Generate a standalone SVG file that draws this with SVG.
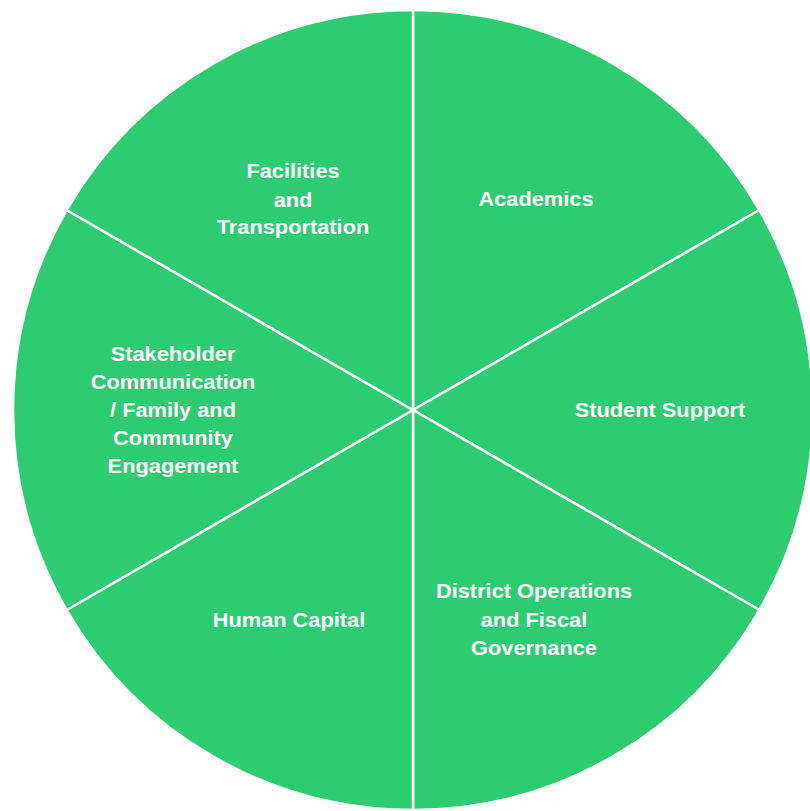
<svg xmlns="http://www.w3.org/2000/svg" width="810" height="811" viewBox="0 0 810 811">
<style>
.slice{fill:#2ECC71;stroke:#ffffff;stroke-width:2.5;stroke-linejoin:round}
.lbl{font-family:"Liberation Sans",Arial,sans-serif;font-size:20px;font-weight:bold;fill:#ffffff;text-anchor:middle}
</style>
<rect width="810" height="811" fill="#ffffff"/>
<g id="slice-academics">
<path class="slice" d="M413,410 L413,10 A400,400 0 0 1 759.4,210 Z"/>
<text class="lbl" transform="translate(536,206) scale(1.09,1)">Academics</text>
</g>
<g id="slice-student-support">
<path class="slice" d="M413,410 L759.4,210 A400,400 0 0 1 759.4,610 Z"/>
<text class="lbl" transform="translate(660,417) scale(1.09,1)">Student Support</text>
</g>
<g id="slice-district-operations">
<path class="slice" d="M413,410 L759.4,610 A400,400 0 0 1 413,810 Z"/>
<text class="lbl" transform="translate(534,598) scale(1.09,1)">District Operations</text>
<text class="lbl" transform="translate(534,627) scale(1.09,1)">and Fiscal</text>
<text class="lbl" transform="translate(534,655) scale(1.09,1)">Governance</text>
</g>
<g id="slice-human-capital">
<path class="slice" d="M413,410 L413,810 A400,400 0 0 1 66.6,610 Z"/>
<text class="lbl" transform="translate(289,627) scale(1.09,1)">Human Capital</text>
</g>
<g id="slice-stakeholder">
<path class="slice" d="M413,410 L66.6,610 A400,400 0 0 1 66.6,210 Z"/>
<text class="lbl" transform="translate(173,361) scale(1.09,1)">Stakeholder</text>
<text class="lbl" transform="translate(173,389) scale(1.09,1)">Communication</text>
<text class="lbl" transform="translate(173,417) scale(1.09,1)">/ Family and</text>
<text class="lbl" transform="translate(173,445) scale(1.09,1)">Community</text>
<text class="lbl" transform="translate(173,473) scale(1.09,1)">Engagement</text>
</g>
<g id="slice-facilities">
<path class="slice" d="M413,410 L66.6,210 A400,400 0 0 1 413,10 Z"/>
<text class="lbl" transform="translate(293,178) scale(1.09,1)">Facilities</text>
<text class="lbl" transform="translate(293,207) scale(1.09,1)">and</text>
<text class="lbl" transform="translate(293,234) scale(1.09,1)">Transportation</text>
</g>
<g id="connectors"></g>
</svg>
